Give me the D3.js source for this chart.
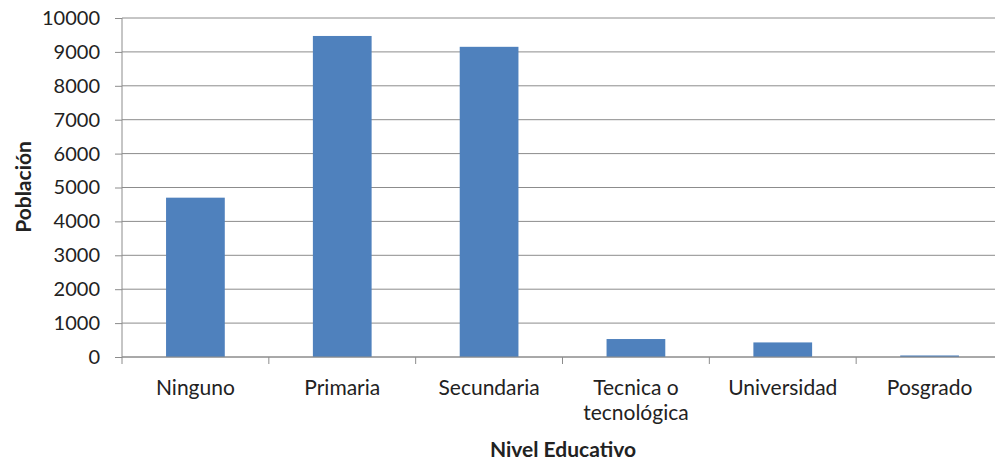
<!DOCTYPE html>
<html>
<head>
<meta charset="utf-8">
<script src="https://cdn.jsdelivr.net/npm/d3@7"></script>
<style>
  body { margin: 0; background: #fff; }
  text { font-family: Lato, "Open Sans", sans-serif; fill: #222; }
</style>
</head>
<body>
<div id="chart"></div>
<script>
// data
var categories = ["Ninguno", "Primaria", "Secundaria", "Tecnica o tecnológica", "Universidad", "Posgrado"];
var labelLines = [["Ninguno"], ["Primaria"], ["Secundaria"], ["Tecnica o", "tecnológica"], ["Universidad"], ["Posgrado"]];
var poblacion = [4700, 9470, 9150, 530, 430, 45];
var yTicks = [0, 1000, 2000, 3000, 4000, 5000, 6000, 7000, 8000, 9000, 10000];

var W = 995, H = 460;
var margin = {top: 18, right: -8, bottom: 103, left: 122};
var w = W - margin.left - margin.right,
    h = H - margin.top - margin.bottom;

var svg = d3.select("#chart").append("svg")
    .attr("width", W)
    .attr("height", H);

var g = svg.append("g")
    .attr("transform", "translate(" + margin.left + "," + margin.top + ")");

var x = d3.scaleBand().domain(categories).range([0, w]).paddingInner(0.6).paddingOuter(0.3);
var xOuter = d3.scaleBand().domain(categories).range([0, w]);
var y = d3.scaleLinear().domain([0, 10000]).range([h, 0]);

//gridlines
g.selectAll("line.grid")
  .data(yTicks)
  .enter().append("line")
    .attr("class", "grid")
    .attr("x1", 0).attr("x2", w)
    .attr("y1", function(d) { return y(d); })
    .attr("y2", function(d) { return y(d); })
    .attr("stroke", "#8c8c8c")
    .attr("stroke-width", 1);

//bars
g.selectAll("rect.bar")
  .data(poblacion)
  .enter().append("rect")
    .attr("class", "bar")
    .attr("x", function(d, i) { return x(categories[i]); })
    .attr("width", x.bandwidth())
    .attr("y", function(d) { return y(d); })
    .attr("height", function(d) { return h - y(d); })
    .attr("fill", "#4f81bd");

//y axis
var yAxis = d3.axisLeft(y).tickValues(yTicks).tickSize(7).tickPadding(15).tickFormat(d3.format("d"));
var yG = g.append("g").call(yAxis);
yG.select(".domain").attr("stroke", "#8c8c8c").attr("d", "M0," + h + "V0");
yG.selectAll(".tick line").attr("stroke", "#8c8c8c");
yG.selectAll(".tick text").attr("font-size", "20px").attr("fill", "#222")
  .style("font-family", "Lato, 'Open Sans', sans-serif");

//x axis line + ticks at band boundaries
g.append("line")
  .attr("x1", 0).attr("x2", w).attr("y1", h).attr("y2", h)
  .attr("stroke", "#8c8c8c");
g.selectAll("line.xtick")
  .data(categories)
  .enter().append("line")
    .attr("class", "xtick")
    .attr("x1", function(d) { return xOuter(d); })
    .attr("x2", function(d) { return xOuter(d); })
    .attr("y1", h).attr("y2", h + 7)
    .attr("stroke", "#8c8c8c");

//category labels
var lab = g.selectAll("text.xlab")
  .data(categories)
  .enter().append("text")
    .attr("class", "xlab")
    .attr("text-anchor", "middle")
    .attr("font-size", "21px")
    .attr("transform", function(d) { return "translate(" + (x(d) + x.bandwidth() / 2) + "," + (h + 38) + ")"; });
lab.selectAll("tspan")
  .data(function(d, i) { return labelLines[i]; })
  .enter().append("tspan")
    .attr("x", 0)
    .attr("dy", function(d, i) { return i === 0 ? 0 : 25; })
    .text(function(d) { return d; });

//axis titles
svg.append("text")
  .attr("text-anchor", "middle")
  .attr("font-size", "21px")
  .attr("font-weight", "bold")
  .attr("transform", "translate(31,187) rotate(-90)")
  .text("Población");

svg.append("text")
  .attr("text-anchor", "middle")
  .attr("font-size", "21px")
  .attr("font-weight", "bold")
  .attr("x", 563)
  .attr("y", 457)
  .text("Nivel Educativo");
</script>
</body>
</html>
